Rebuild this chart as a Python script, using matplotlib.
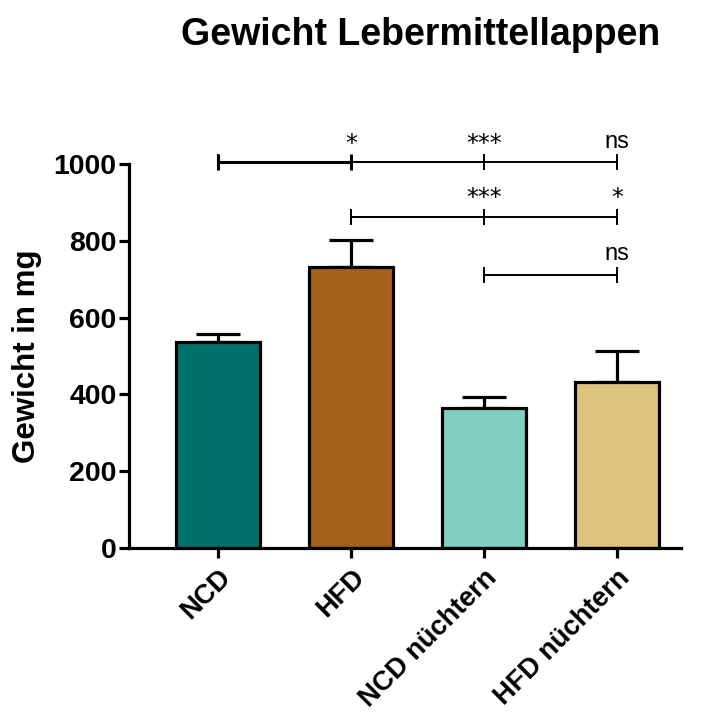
import matplotlib
matplotlib.use("Agg")
import matplotlib.pyplot as plt

plt.rcParams["font.family"] = ["Liberation Sans", "DejaVu Sans"]

# Group means and SEM of the liver middle lobe weight (mg)
groups = ["NCD", "HFD", "NCD nüchtern", "HFD nüchtern"]
means = [537, 732, 365, 432]
sems = [21, 70, 28, 81]
colors = ["#00706B", "#A5601C", "#80CFC1", "#DDC37E"]

# Pairwise comparisons: (group a, group b, bracket height, significance)
comparisons = [
    (0, 1, 1005, "*"),
    (0, 2, 1005, "***"),
    (0, 3, 1005, "ns"),
    (1, 2, 862, "***"),
    (1, 3, 862, "*"),
    (2, 3, 711, "ns"),
]

yticks = [0, 200, 400, 600, 800, 1000]

fig = plt.figure(figsize=(7.04, 7.2), dpi=100)
ax = fig.add_axes([0.1832, 0.2389, 0.967 - 0.1832, 0.7722 - 0.2389])

x = list(range(len(groups)))
ax.bar(x, means, width=0.63, color=colors, edgecolor="black", linewidth=2.3, zorder=2)
ax.errorbar(x, means, yerr=[[0] * len(sems), sems], fmt="none", ecolor="black",
            elinewidth=2.3, capsize=15.5, capthick=2.3, zorder=1)

ax.set_xlim(-0.67, 3.48)
ax.set_ylim(0, 1000)
ax.set_yticks(yticks)
ax.set_yticklabels([str(v) for v in yticks], fontsize=20.5, fontweight="bold")
ax.set_xticks(x)
ax.set_xticklabels(groups, rotation=45, ha="right", rotation_mode="anchor",
                   fontsize=19.5, fontweight="bold")

for side in ("top", "right"):
    ax.spines[side].set_visible(False)
for side in ("left", "bottom"):
    ax.spines[side].set_linewidth(2.3)
ax.tick_params(axis="both", direction="out", length=7, width=2.3, pad=2)
ax.tick_params(axis="x", pad=5)

ax.set_ylabel("Gewicht in mg", fontsize=22.5, fontweight="bold", labelpad=8)

# Significance brackets
tick_h = 21
for k, (a, b, y, label) in enumerate(comparisons):
    lw = 2.2 if k == 0 else 1.4
    ax.plot([a, b], [y, y], color="black", lw=lw, clip_on=False, solid_capstyle="butt")
    for xe in (a, b):
        ax.plot([xe, xe], [y - tick_h, y + tick_h], color="black", lw=lw,
                clip_on=False, solid_capstyle="butt")
    if label == "ns":
        ax.text(b, y + 38, label, ha="center", va="baseline", fontsize=17,
                clip_on=False)
    else:
        ax.text(b, y + 30, label, ha="center", va="baseline", fontsize=17,
                family="DejaVu Sans", clip_on=False)

fig.text(0.597, 0.951, "Gewicht Lebermittellappen", ha="center", va="center",
         fontsize=27, fontweight="bold")

fig.savefig("out.png", dpi=100)
